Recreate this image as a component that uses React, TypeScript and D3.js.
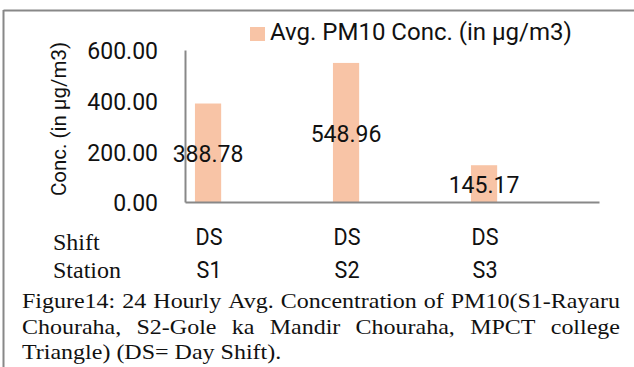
import React, { useEffect, useRef } from 'react';
import * as d3 from 'd3';

// chart values
const stations = ['S1', 'S2', 'S3'];
const shifts = ['DS', 'DS', 'DS'];
const pm10 = [388.78, 548.96, 145.17];
const yTicks = [0, 200, 400, 600];
const seriesName = 'Avg. PM10 Conc. (in µg/m3)';
const yTitle = 'Conc. (in µg/m3)';
const rowLabels = ['Shift', 'Station'];
const captionLines = [
  'Figure14: 24 Hourly Avg. Concentration of PM10(S1-Rayaru',
  'Chouraha, S2-Gole ka Mandir Chouraha, MPCT college',
  'Triangle) (DS= Day Shift).',
];

const width = 634;
const height = 367;
const barColor = '#F8C4A6';
const axisColor = '#888888';
const sans = 'Roboto, "Liberation Sans", sans-serif';
const serif = '"Liberation Serif", "DejaVu Serif", serif';

export default function App() {
  const ref = useRef<SVGSVGElement>(null);

  useEffect(() => {
    const svg = d3.select(ref.current);
    svg.selectAll('*').remove();

    // outer frame (top and left edge visible)
    svg.append('line')
      .attr('x1', 3.5).attr('x2', width).attr('y1', 10.5).attr('y2', 10.5)
      .attr('stroke', axisColor).attr('stroke-width', 2);
    svg.append('line')
      .attr('x1', 3.5).attr('x2', 3.5).attr('y1', 10).attr('y2', height)
      .attr('stroke', axisColor).attr('stroke-width', 2);

    const x = d3.scaleBand().domain(stations).range([185, 599]);
    const y = d3.scaleLinear().domain([0, 600]).range([202, 50]);
    const bw = x.bandwidth();
    const barX = (s: string) => (x(s) as number) + bw * 0.072;
    const barW = bw * 0.19;
    const cx = (s: string) => barX(s) + barW / 2;

    // bars
    svg.append('g')
      .selectAll('rect')
      .data(pm10)
      .enter()
      .append('rect')
      .attr('x', (d, i) => barX(stations[i]))
      .attr('width', barW)
      .attr('y', (d) => y(d))
      .attr('height', (d) => y(0) - y(d))
      .attr('fill', barColor);

    // axes
    const yAxis = d3.axisLeft(y).tickValues(yTicks).tickSize(0).tickSizeOuter(0)
      .tickPadding(27).tickFormat(d3.format('.2f'));
    const gy = svg.append('g').attr('transform', 'translate(185,0)').call(yAxis);
    gy.select('.domain').attr('stroke', axisColor).attr('stroke-width', 2);
    gy.selectAll('text')
      .attr('font-family', sans).attr('font-size', 23).attr('fill', '#111')
      .attr('dy', '0.38em');

    const xAxis = d3.axisBottom(x).tickSize(0).tickSizeOuter(0).tickFormat(() => '');
    const gx = svg.append('g').attr('transform', 'translate(0,202)').call(xAxis);
    gx.select('.domain').attr('stroke', axisColor).attr('stroke-width', 2);

    // data labels in the middle of the bars
    svg.append('g')
      .selectAll('text')
      .data(pm10)
      .enter()
      .append('text')
      .attr('x', (d, i) => cx(stations[i]))
      .attr('y', (d) => (y(d) + y(0)) / 2 + 1)
      .attr('dy', '0.36em')
      .attr('text-anchor', 'middle')
      .attr('font-family', sans).attr('font-size', 23).attr('fill', '#111')
      .text((d) => d3.format('.2f')(d));

    // y title
    svg.append('text')
      .attr('transform', 'translate(59,119) rotate(-90)')
      .attr('text-anchor', 'middle')
      .attr('dy', '0.35em')
      .attr('font-family', sans).attr('font-size', 20.5).attr('fill', '#111')
      .text(yTitle);

    // legend
    svg.append('rect')
      .attr('x', 250).attr('y', 27).attr('width', 15).attr('height', 14)
      .attr('fill', barColor);
    svg.append('text')
      .attr('x', 270).attr('y', 40)
      .attr('font-family', sans).attr('font-size', 24).attr('fill', '#111')
      .text(seriesName);

    // category rows under the axis
    const rows = [shifts, stations];
    const rowY = [245, 278];
    const labelY = [250, 278];
    rows.forEach((vals, r) => {
      svg.append('text')
        .attr('x', 53).attr('y', labelY[r])
        .attr('font-family', serif).attr('font-size', 24).attr('fill', '#111')
        .text(rowLabels[r]);
      svg.append('g')
        .selectAll('text')
        .data(vals)
        .enter()
        .append('text')
        .attr('transform', (d, i) => `translate(${cx(stations[i]) + 1},${rowY[r]}) scale(0.88,1)`)
        .attr('text-anchor', 'middle')
        .attr('font-family', sans).attr('font-size', 24.5).attr('fill', '#111')
        .text((d) => d);
    });

    // caption, justified like the source paragraph
    const capLeft = 22;
    const capRight = 620;
    const sx = 1.2;
    const fs = 20;
    const avail = (capRight - capLeft) / sx;
    const capY = [308, 334, 359];
    captionLines.forEach((line, li) => {
      const g = svg.append('g')
        .attr('transform', `translate(${capLeft},${capY[li]}) scale(${sx},1)`);
      const words = line.split(' ');
      const nodes = words.map((w) =>
        g.append('text')
          .attr('font-family', serif).attr('font-size', fs).attr('fill', '#111')
          .text(w)
      );
      const widths = nodes.map((n) => (n.node() as SVGTextElement).getComputedTextLength());
      const total = d3.sum(widths);
      const last = li === captionLines.length - 1;
      const gap = last ? fs * 0.25 : (avail - total) / (words.length - 1);
      let pos = 0;
      nodes.forEach((n, i) => {
        n.attr('x', pos);
        pos += widths[i] + gap;
      });
    });
  }, []);

  return (
    <svg
      ref={ref}
      width={width}
      height={height}
      style={{ position: 'absolute', left: 0, top: 0, background: '#fff' }}
    />
  );
}
